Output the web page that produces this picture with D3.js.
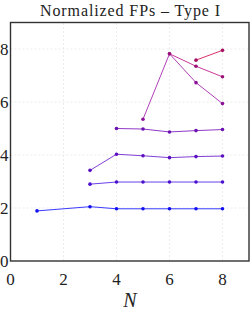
<!DOCTYPE html>
<html>
<head>
<script src="https://d3js.org/d3.v7.min.js"></script>
<style>
body { margin: 0; background: #fff; }
</style>
</head>
<body>
<svg id="chart" width="250" height="316"></svg>
<script>
// data
var xTicks = [0, 2, 4, 6, 8];
var yTicks = [0, 2, 4, 6, 8];
var s1 = [[1, 1.89], [3, 2.05], [4, 1.97], [5, 1.97], [6, 1.97], [7, 1.97], [8, 1.97]];
var s2 = [[3, 2.9], [4, 2.98], [5, 2.98], [6, 2.98], [7, 2.98], [8, 2.98]];
var s3 = [[3, 3.42], [4, 4.03], [5, 3.97], [6, 3.9], [7, 3.94], [8, 3.96]];
var s4 = [[4, 5.0], [5, 4.98], [6, 4.87], [7, 4.92], [8, 4.96]];
var s5 = [[5, 5.35], [6, 7.82], [7, 6.73], [8, 5.94]];
var s6 = [[6, 7.82], [7, 7.35], [8, 6.95]];
var s7 = [[7, 7.58], [8, 7.95]];
var series = [s1, s2, s3, s4, s5, s6, s7];
var lineColors = ['#3a3aff', '#6a40e8', '#8040d8', '#9038c8', '#b040b8', '#c8389a', '#d8306a'];
var dotColors = ['#1010f0', '#4a10d0', '#5a10c0', '#6a10b0', '#8a1098', '#9a1078', '#a81060'];
var serif = 'Liberation Serif';

var svg = d3.select('#chart');
var x = d3.scaleLinear().domain([0, 9]).range([10.5, 249]);
var y = d3.scaleLinear().domain([0, 9]).range([261, 22.5]);

// grid
svg.append('g').selectAll('line').data(xTicks.slice(1)).enter().append('line')
  .attr('x1', d => x(d)).attr('x2', d => x(d))
  .attr('y1', y(0)).attr('y2', y(9))
  .style('stroke', '#ddd').style('stroke-width', 0.6).style('stroke-dasharray', '2,2');
svg.append('g').selectAll('line').data(yTicks.slice(1)).enter().append('line')
  .attr('x1', x(0)).attr('x2', x(9))
  .attr('y1', d => y(d)).attr('y2', d => y(d))
  .style('stroke', '#ddd').style('stroke-width', 0.6).style('stroke-dasharray', '2,2');

// lines + dots
var line = d3.line().x(d => x(d[0])).y(d => y(d[1]));
series.forEach(function(s, i) {
  svg.append('path').datum(s).attr('d', line)
    .style('fill', 'none').style('stroke', lineColors[i]).style('stroke-width', 1);
  svg.append('g').selectAll('circle').data(s).enter().append('circle')
    .attr('cx', d => x(d[0])).attr('cy', d => y(d[1])).attr('r', 1.8)
    .style('fill', dotColors[i]);
});

// frame
svg.append('rect')
  .attr('x', x(0)).attr('y', y(9))
  .attr('width', x(9) - x(0)).attr('height', y(0) - y(9))
  .style('fill', 'none').style('stroke', '#333').style('stroke-width', 1.4);

// tick labels
svg.append('g').selectAll('text').data(xTicks).enter().append('text')
  .attr('x', d => x(d)).attr('y', 284.5)
  .attr('text-anchor', 'middle').attr('font-family', serif).attr('font-size', 17)
  .attr('fill', '#222')
  .text(d => d);
svg.append('g').selectAll('text').data(yTicks).enter().append('text')
  .attr('x', 8.5).attr('y', d => y(d) + 5.5)
  .attr('text-anchor', 'end').attr('font-family', serif).attr('font-size', 17)
  .attr('fill', '#222')
  .text(d => d);

// titles
svg.append('text')
  .attr('x', 40).attr('y', 15.5)
  .attr('font-family', serif).attr('font-size', 16)
  .attr('textLength', 180).attr('lengthAdjust', 'spacing')
  .attr('fill', '#222')
  .text('Normalized FPs \u2013 Type I');
svg.append('text')
  .attr('x', 130).attr('y', 306.5)
  .attr('text-anchor', 'middle').attr('font-family', serif).attr('font-size', 20)
  .attr('font-style', 'italic').attr('fill', '#222')
  .text('N');
</script>
</body>
</html>
